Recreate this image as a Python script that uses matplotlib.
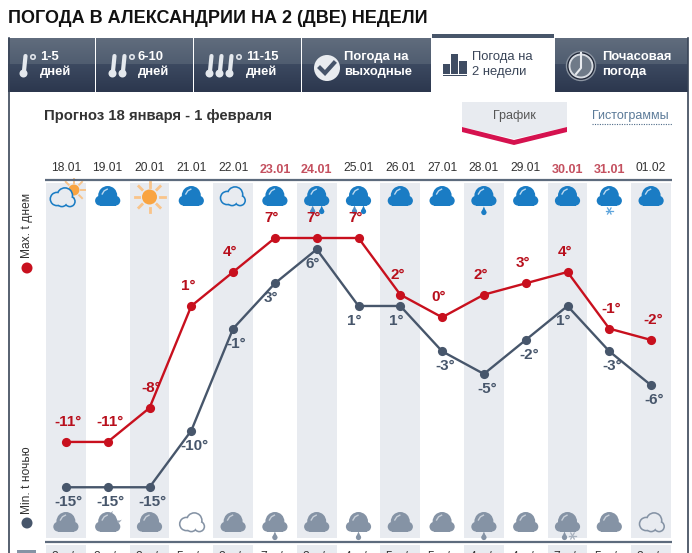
import numpy as np
import matplotlib
matplotlib.use("Agg")
import matplotlib.pyplot as plt
from matplotlib.patches import Circle, Rectangle, Polygon

plt.rcParams['font.family'] = ['Liberation Sans', 'DejaVu Sans']

dates = ['18.01','19.01','20.01','21.01','22.01','23.01','24.01','25.01','26.01','27.01','28.01','29.01','30.01','31.01','01.02']
weekend = ['23.01','24.01','30.01','31.01']
t_max = [-11,-11,-8,1,4,7,7,7,2,0,2,3,4,-1,-2]
t_min = [-15,-15,-15,-10,-1,3,6,1,1,-3,-5,-2,1,-3,-6]
icons_day = ['partly','cloud','sun','cloud','outline','cloud','rain2','rain2','cloud','cloud','rain1','cloud','cloud','snow','cloud']
icons_night = ['cloud','moon','cloud','outline','cloud','rain1','cloud','rain1','cloud','cloud','rain1','cloud','rainsnow','cloud','outline']
wind = [3,3,3,5,3,7,3,4,5,5,4,4,7,5,3]

TITLE = 'ПОГОДА В АЛЕКСАНДРИИ НА 2 (ДВЕ) НЕДЕЛИ'
SUB = 'Прогноз 18 января - 1 февраля'

W, H = 692, 553
fig = plt.figure(figsize=(W/100, H/100), dpi=100, facecolor='white')
px = fig.add_axes([0, 0, 1, 1], zorder=0)
px.set_xlim(0, W); px.set_ylim(H, 0); px.axis('off')

def P(v):
    return v*0.72

RED = '#c8101e'; DARK = '#47566b'; BAND = '#e8ebf0'; BLUE = '#1a7cc4'; GREY = '#8593a5'; ORANGE = '#f9a441'

# ---- tabs
def tab(x0, x1):
    top = np.array([0x60, 0x6c, 0x7d])/255; mid = np.array([0x50, 0x5d, 0x70])/255
    low1 = np.array([0x3c, 0x49, 0x60])/255; low2 = np.array([0x2c, 0x37, 0x4e])/255
    a = top + (mid-top)*np.linspace(0, 1, 26)[:, None]
    b = low1 + (low2-low1)*np.linspace(0, 1, 28)[:, None]
    g = np.vstack([a, b])[:, None, :]
    px.imshow(g, extent=(x0, x1, 92, 38), aspect='auto', zorder=1, interpolation='nearest')
for a, b in [(8, 95), (96, 193), (194, 301), (302, 431), (555, 688)]:
    tab(a, b)
px.add_patch(Rectangle((432, 34), 122, 4, color='#48566a', zorder=2, lw=0))
px.plot([8.5, 8.5], [38, 553], color='#3a4558', lw=1.2, zorder=2)
px.plot([687.5, 687.5], [38, 553], color='#3a4558', lw=1.2, zorder=2)

def thermo(x):
    px.plot([x+1.5, x], [56, 71], color='#e4e8ed', lw=3, zorder=3, solid_capstyle='round')
    px.add_patch(Circle((x-0.5, 73.5), 4, color='#e4e8ed', lw=0, zorder=3))
def ring(x):
    px.add_patch(Circle((x, 57), 2.2, fc='none', ec='#dfe3e9', lw=1.2, zorder=3))
thermo(24); ring(33)
thermo(113); thermo(123); ring(132)
thermo(210); thermo(220); thermo(230); ring(239)

def tabtext(x, a, b, c='white', w='bold'):
    px.text(x, 57, a, color=c, fontsize=P(13), fontweight=w, va='center', ha='left', zorder=4)
    px.text(x, 72, b, color=c, fontsize=P(13), fontweight=w, va='center', ha='left', zorder=4)
tabtext(40, '1-5', 'дней')
tabtext(138, '6-10', 'дней')
tabtext(246, '11-15', 'дней')
tabtext(344, 'Погода на', 'выходные')
tabtext(472, 'Погода на', '2 недели', '#3a4558', 'normal')
tabtext(602, 'Почасовая', 'погода')

px.add_patch(Circle((327, 68), 13, color='#e9ecf0', lw=0, zorder=3))
px.plot([320, 325, 334], [68, 73, 63], color='#46546a', lw=3, zorder=4, solid_joinstyle='miter')

for x0, x1, yt in [(443, 450, 64), (450.5, 458, 54), (458.5, 467, 61)]:
    px.add_patch(Rectangle((x0, yt), x1-x0, 73.5-yt, color='#3f4c62', lw=0, zorder=3))
px.add_patch(Rectangle((443, 74.5), 24, 1.5, color='#3f4c62', lw=0, zorder=3))

px.add_patch(Circle((581, 66), 14.5, fc='#1d2435', ec='#8d96a3', lw=1, zorder=3))
px.add_patch(Circle((581, 66), 11.5, fc='#6f7a88', ec='#d8dce2', lw=1.4, zorder=3))
px.plot([581, 581, 576], [53, 68, 74], color='#e8ebef', lw=1.5, zorder=4)

# ---- headings
px.text(8, 18.5, TITLE, fontsize=P(18), fontweight='bold', color='#111111', va='center', zorder=4)
px.text(44, 116, SUB, fontsize=P(14.9), fontweight='bold', color='#333333', va='center', zorder=4)

# ---- toggle
px.add_patch(Polygon([(462, 102), (567, 102), (567, 127), (514, 139), (462, 127)], color=BAND, lw=0, zorder=2))
px.add_patch(Polygon([(462, 127), (514, 140), (567, 127), (567, 132), (514, 145), (462, 132)], color='#d5124f', lw=0, zorder=3))
px.text(514, 116, 'График', fontsize=P(12.5), color='#555555', ha='center', va='center', zorder=4)
px.text(592, 116, 'Гистограммы', fontsize=P(12.5), color='#5b7a98', ha='left', va='center', zorder=4)
px.plot([592, 672], [123.5, 123.5], color='#4e6b88', lw=0.8, ls=(0, (1, 1.2)), zorder=4)

# ---- side legend
px.text(27, 225, 'Max. t днем', rotation=90, fontsize=P(12), color='#333333', ha='center', va='center', zorder=4)
px.add_patch(Circle((27, 268), 5.5, color='#c8101e', lw=0, zorder=4))
px.text(27, 480, 'Min. t ночью', rotation=90, fontsize=P(12), color='#333333', ha='center', va='center', zorder=4)
px.add_patch(Circle((27, 523), 5.5, color=DARK, lw=0, zorder=4))
px.add_patch(Rectangle((17, 550), 19, 3, color=GREY, lw=0, zorder=4))

# ---- chart axes: x = day index, y = temperature
X0, X1 = 45.0, 672.0
YT, YB = 183.0, 553.0
PPD = 11.33
ax = fig.add_axes([X0/W, 0, (X1-X0)/W, (YB-YT)/H], zorder=1)
ax.patch.set_alpha(0)
ax.axis('off')
xs = np.arange(len(dates))
ylim = (7+(238-YB)/PPD, 7+(238-YT)/PPD)
T = px.transData

f1 = (YB-538)/(YB-YT)
f2 = (YB-545)/(YB-YT)
for i in xs[::2]:
    ax.axvspan(i-0.478, i+0.478, ymin=f1, ymax=1, color=BAND, lw=0, zorder=1)
    ax.axvspan(i-0.478, i+0.478, ymin=0, ymax=f2, color=BAND, lw=0, zorder=1)

ax.plot(xs, t_max, color=RED, lw=1.7, marker='o', ms=6.6, mew=0, zorder=6, clip_on=False)
ax.plot(xs, t_min, color=DARK, lw=1.7, marker='o', ms=6.6, mew=0, zorder=5, clip_on=False)
for i, v in enumerate(t_max):
    ax.annotate(f'{v}°', (i, v), xytext=((2 if v < 0 else -3)*0.72, 20*0.72), textcoords='offset points',
                ha='center', va='center', color='#b80f1c', fontsize=P(15.2), fontweight='bold', zorder=8)
for i, v in enumerate(t_min):
    ax.annotate(f'{v}°', (i, v), xytext=((3 if v < 0 else -4)*0.72, -15*0.72), textcoords='offset points',
                ha='center', va='center', color=DARK, fontsize=P(15.2), fontweight='bold', zorder=8)

def add(p):
    p.set_transform(T); p.set_clip_on(False); ax.add_patch(p)

def cloud(cx, cy, col, hl='#bcd9f0', z=3):
    for x, y, r in [(cx, cy-1.5, 9.5), (cx-7.7, cy+3.7, 4.9), (cx+7.7, cy+3.7, 4.9)]:
        add(Circle((x, y), r, fc=col, lw=0, zorder=z))
    add(Rectangle((cx-8, cy+1), 16, 7.6, fc=col, lw=0, zorder=z))
    ax.plot([cx-5.5, cx-3.5, cx-0.5], [cy-3, cy-6.2, cy-7.8], color=hl, lw=1, zorder=z+0.1, transform=T, clip_on=False)

def outline(cx, cy, col, bg, z=3):
    shapes = [(cx+3, cy-2.5, 7.5), (cx-5, cy+1, 6.5), (cx+8, cy+3.5, 5), (cx, cy+3, 5.5)]
    for x, y, r in shapes:
        add(Circle((x, y), r+0.9, fc=col, lw=0, zorder=z))
    for x, y, r in shapes:
        add(Circle((x, y), r-0.7, fc=bg, lw=0, zorder=z+0.1))

def drop(x, y, col):
    add(Polygon([(x-2.6, y+1.5), (x, y-4.5), (x+2.6, y+1.5)], fc=col, lw=0, zorder=4))
    add(Circle((x, y+1.5), 2.6, fc=col, lw=0, zorder=4))

def flake(x, y, col, r=3.5):
    for a in (0, 60, 120):
        dx, dy = r*np.cos(np.radians(a)), r*np.sin(np.radians(a))
        ax.plot([x-dx, x+dx], [y-dy, y+dy], color=col, lw=0.9, zorder=4, transform=T, clip_on=False)

def sun(cx, cy, r, ray0, ray1, lw=2.0):
    for a in np.arange(0, 360, 45):
        c, s = np.cos(np.radians(a)), np.sin(np.radians(a))
        ax.plot([cx+ray0*c, cx+ray1*c], [cy+ray0*s, cy+ray1*s], color='#f9c48a', lw=lw, zorder=2.5, transform=T, clip_on=False)
    add(Circle((cx, cy), r, fc=ORANGE, lw=0, zorder=2.6))

def centre(i):
    return X0 + (i+0.5)*(X1-X0)/len(dates)

for i, k in enumerate(icons_day):
    cx, cy = centre(i), 197
    bg = BAND if i % 2 == 0 else 'white'
    if k == 'sun':
        sun(cx, cy, 7.5, 10.5, 15)
    elif k == 'partly':
        sun(cx+8, cy-7, 5.5, 7.5, 11.5, 1.4)
        outline(cx-4, cy+1, BLUE, bg)
    elif k == 'outline':
        outline(cx-1, cy, BLUE, bg)
    else:
        cloud(cx, cy, BLUE)
        if k == 'rain1':
            drop(cx, cy+14, BLUE)
        elif k == 'rain2':
            drop(cx-4, cy+13, '#4d8fc6')
            drop(cx+5, cy+13, BLUE)
        elif k == 'snow':
            flake(cx, cy+14, '#5fa5dc')

for i, k in enumerate(icons_night):
    cx, cy = centre(i), 523
    bg = BAND if i % 2 == 0 else 'white'
    if k == 'outline':
        outline(cx, cy, GREY, bg)
    else:
        if k == 'moon':
            add(Circle((cx+8, cy-6), 6.5, fc='#9aa6b5', lw=0, zorder=2.5))
            add(Circle((cx+11, cy-9), 6.5, fc=bg, lw=0, zorder=2.6))
        cloud(cx, cy, GREY, '#c9d0d9')
        if k == 'rain1':
            drop(cx, cy+13, GREY)
        elif k == 'rainsnow':
            drop(cx-3, cy+13, GREY)
            flake(cx+5, cy+13, '#a7b1be')

# ---- rules, dates, wind
ax.plot([-0.5, 14.5], [7+(238-179.5)/PPD]*2, color='#5d6b7d', lw=1.6, zorder=3, clip_on=False, solid_capstyle='butt')
ax.plot([-0.5, 14.5], [7+(238-542)/PPD]*2, color='#5d6b7d', lw=1.6, zorder=3, clip_on=False, solid_capstyle='butt')
for i, d in enumerate(dates):
    if d in weekend:
        ax.text(centre(i), 170, d, transform=T, ha='center', va='center', fontsize=P(12.5), fontweight='bold', color='#c4505f', clip_on=False)
    else:
        ax.text(centre(i), 168, d, transform=T, ha='center', va='center', fontsize=P(12), color='#333333', clip_on=False)
    ax.text(centre(i), 551.5, f'{wind[i]} м/с', transform=T, ha='center', va='top', fontsize=P(12), color='#333333', clip_on=False)

ax.set_xlim(-0.5, 14.5)
ax.set_ylim(*ylim)
px.set_xlim(0, W); px.set_ylim(H, 0); px.set_aspect('auto')
fig.savefig('out.png', dpi=100, facecolor='white')
